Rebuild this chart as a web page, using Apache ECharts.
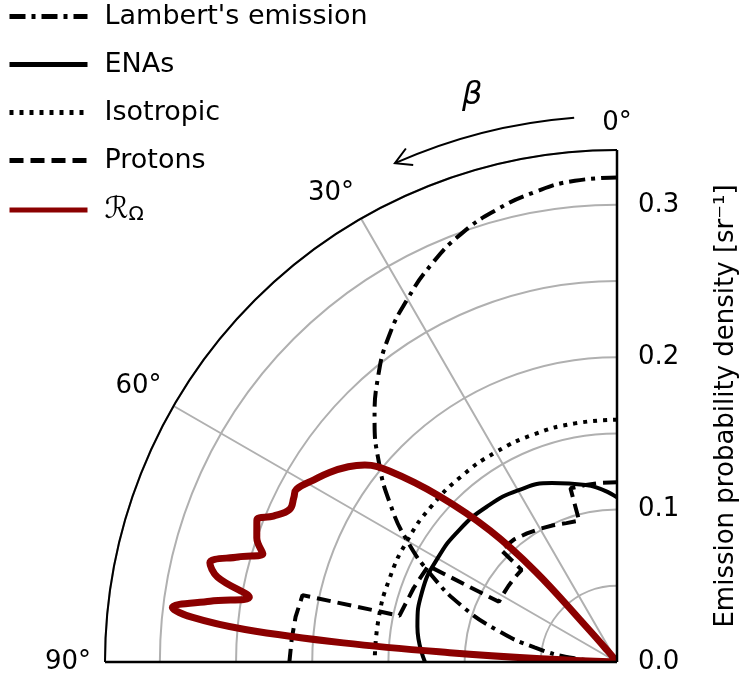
<!DOCTYPE html>
<html><head><meta charset="utf-8">
<script src="https://cdn.jsdelivr.net/npm/echarts@6/dist/echarts.min.js"></script>
<style>html,body{margin:0;padding:0;background:#fff}#c{width:750px;height:689px}</style>
</head><body><div id="c"></div>
<script>
// angles in degrees (beta), radii in sr^-1
const lambertAngles = [0,5,10,15,20,25,30,35,40,45,50,55,60,65,70,75,80,85,90];
const lambertValues = [0.318,0.317,0.313,0.307,0.299,0.288,0.275,0.261,0.244,0.225,0.204,0.182,0.159,0.134,0.109,0.082,0.055,0.028,0];
const enaAngles = [0,10,20,30,40,50,60,70,80,90];
const enaValues = [0.108,0.118,0.125,0.13,0.133,0.135,0.136,0.136,0.133,0.126];
const isoAngles = [0,10,20,30,40,50,60,70,80,90];
const isoValues = [0.159,0.159,0.159,0.159,0.159,0.159,0.159,0.159,0.159,0.159];
const protonAngles = [0,5,10,15,15,20,25,30,35,40,46,46,50,55,60,63,63,70,78,78,82,86,90];
const protonValues = [0.118,0.118,0.118,0.118,0.096,0.097,0.099,0.101,0.103,0.105,0.106,0.087,0.087,0.087,0.087,0.087,0.139,0.142,0.146,0.211,0.213,0.214,0.215];
const rAngles = [0,38,40,41,42,44,47,50,52,54,56.6,59,61.7,63,65,67,68.5,71,73,74.5,76.3,78,80,81.5,83,84,85,86,86.8,87.5,88.5,90];
const rValues = [0,0,0.01,0.03,0.08,0.12,0.16,0.195,0.21,0.218,0.226,0.232,0.239,0.238,0.237,0.245,0.254,0.25,0.243,0.258,0.275,0.268,0.245,0.27,0.294,0.28,0.245,0.18,0.11,0.05,0,0];
const radiusTicks = [0.0,0.1,0.2,0.3];

const pair = (r,a)=>r.map((v,i)=>[v,a[i]]);
const chart = echarts.init(document.getElementById('c'));
const F = 'DejaVu Sans';
const base = {type:'line',coordinateSystem:'polar',symbol:'none',z:5};
const d2r = Math.PI/180;
const cx=617, cy=662, ar=546;
const tip=[cx-ar*Math.sin(24*d2r), cy-ar*Math.cos(24*d2r)];
const tx=-Math.cos(24*d2r), ty=Math.sin(24*d2r);
const nx=-ty, ny=tx;
chart.setOption({
  animation:false,
  textStyle:{fontFamily:F},
  polar:{center:[cx,cy],radius:512},
  angleAxis:{type:'value',min:0,max:90,interval:30,startAngle:90,endAngle:180,clockwise:false,
    axisLine:{lineStyle:{color:'#000',width:2}},axisTick:{show:false},
    axisLabel:{color:'#000',fontSize:26,fontFamily:F,margin:14,formatter:v=>v+'°'},
    splitLine:{show:true,lineStyle:{color:'#b0b0b0',width:2}}},
  radiusAxis:{type:'value',min:0,max:0.336,interval:0.05,
    axisLine:{show:false},axisTick:{show:false},axisLabel:{show:false},
    splitLine:{show:true,lineStyle:{color:'#b0b0b0',width:2}}},
  grid:{left:cx,top:150,width:1,height:512},
  xAxis:{type:'value',show:false},
  yAxis:{type:'value',position:'right',min:0,max:0.336,interval:0.1,
    axisLine:{show:false},axisTick:{show:false},splitLine:{show:false},
    axisLabel:{color:'#000',fontSize:26,fontFamily:F,margin:20,formatter:v=>v.toFixed(1),
      customValues:radiusTicks},
    name:'Emission probability density [sr⁻¹]',nameLocation:'middle',nameRotate:90,nameGap:95,
    nameTextStyle:{color:'#000',fontSize:26,fontFamily:F}},
  legend:{orient:'vertical',left:2,top:-2,itemWidth:78,itemHeight:14,itemGap:21,
    itemStyle:{color:'transparent',borderColor:'transparent',borderWidth:0,opacity:0},
    lineStyle:{width:5},
    textStyle:{fontSize:27,color:'#000',fontFamily:F,padding:[0,0,0,12],
      rich:{a:{fontSize:30,fontFamily:F,fontStyle:'italic'},b:{fontSize:20,fontFamily:F,padding:[10,0,0,0]}}},
    formatter:n=>n==='R'?'{a|ℛ}{b|Ω}':n,
    data:["Lambert's emission",'ENAs','Isotropic','Protons','R']},
  graphic:[
    {type:'line',shape:{x1:cx-512,y1:cy,x2:cx,y2:cy},style:{stroke:'#000',lineWidth:2.5},z:10},
    {type:'line',shape:{x1:cx,y1:cy,x2:cx,y2:cy-512},style:{stroke:'#000',lineWidth:2.5},z:10},
    {type:'arc',shape:{cx:cx,cy:cy,r:ar,startAngle:-114*d2r,endAngle:-94.5*d2r},style:{stroke:'#000',lineWidth:2,fill:null},z:10},
    {type:'polyline',shape:{points:[[tip[0]-tx*16+nx*9,tip[1]-ty*16+ny*9],tip,[tip[0]-tx*16-nx*9,tip[1]-ty*16-ny*9]]},style:{stroke:'#000',lineWidth:2,fill:null},z:10},
    {type:'text',x:462,y:80,style:{text:'β',fontSize:32,fontStyle:'italic',fontFamily:F,fill:'#000'},z:10}
  ],
  series:[
    Object.assign({},base,{name:"Lambert's emission",smooth:true,data:pair(lambertValues,lambertAngles),
      lineStyle:{color:'#000',width:4,type:[16,6,4,6]},itemStyle:{color:'#000'}}),
    Object.assign({},base,{name:'ENAs',smooth:true,data:pair(enaValues,enaAngles),
      lineStyle:{color:'#000',width:4},itemStyle:{color:'#000'}}),
    Object.assign({},base,{name:'Isotropic',smooth:true,data:pair(isoValues,isoAngles),
      lineStyle:{color:'#000',width:4,type:[4,6]},itemStyle:{color:'#000'}}),
    Object.assign({},base,{name:'Protons',data:pair(protonValues,protonAngles),
      lineStyle:{color:'#000',width:4,type:[14,7]},itemStyle:{color:'#000'}}),
    Object.assign({},base,{name:'R',smooth:0.4,data:pair(rValues,rAngles),
      lineStyle:{color:'#8b0000',width:7},itemStyle:{color:'#8b0000'}})
  ]
});
</script></body></html>
